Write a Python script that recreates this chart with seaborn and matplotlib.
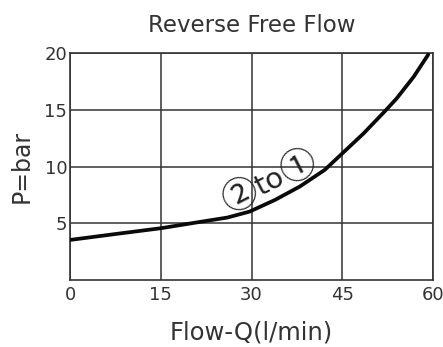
import matplotlib
matplotlib.use("Agg")
import matplotlib.pyplot as plt
import seaborn as sns
import pandas as pd

# Reverse free flow pressure curve
flow_q = [0, 7.5, 15, 21.5, 26, 29.7, 33.9, 38, 42.1, 45.5, 48.5, 52.1, 54, 56.8, 59.2]
pressure = [3.53, 4.05, 4.56, 5.12, 5.5, 6.03, 7.06, 8.24, 9.7, 11.4, 12.9, 14.9, 16.0, 17.9, 19.85]
x_ticks = [0, 15, 30, 45, 60]
y_ticks = [5, 10, 15, 20]

df = pd.DataFrame({"Q": flow_q, "P": pressure})

sns.set_theme(style="white")
plt.rcParams["font.family"] = ["DejaVu Sans", "Noto Sans CJK SC"]

fig = plt.figure(figsize=(4.43, 3.47), dpi=100)
ax = fig.add_axes([70 / 443, 1 - 280 / 347, 363 / 443, 227 / 347])

sns.lineplot(data=df, x="Q", y="P", ax=ax, color="#0a0a0a", linewidth=2.7,
             zorder=3)
ax.lines[0].set_solid_joinstyle("round")

ax.set_xlim(0, 60)
ax.set_ylim(0, 20)
ax.set_xticks(x_ticks)
ax.set_yticks(y_ticks)
ax.grid(True, color="#333333", linewidth=1.1)
ax.set_axisbelow(True)
for s in ax.spines.values():
    s.set_color("#333333")
    s.set_linewidth(1.2)

ax.tick_params(axis="both", length=0, labelsize=13, colors="#333333")
ax.tick_params(axis="x", pad=4)
ax.tick_params(axis="y", pad=2)

ax.set_xlabel("Flow-Q(l/min)", fontsize=17.5, color="#333333", labelpad=12)
ax.set_ylabel("P=bar", fontsize=17, color="#333333", labelpad=8)
ax.set_title("Reverse Free Flow", fontsize=16.5, color="#333333", pad=15)

# port direction label along the curve: ② to ①
cjk = ["Noto Sans CJK SC", "DejaVu Sans"]
ax.text(28.2, 7.35, "②", fontsize=26, rotation=27, color="#222222",
        ha="center", va="center", family=cjk)
ax.text(33.0, 8.65, "to", fontsize=21, rotation=27, color="#222222",
        ha="center", va="center")
ax.text(37.9, 9.95, "①", fontsize=26, rotation=27, color="#222222",
        ha="center", va="center", family=cjk)

fig.savefig("out.png", dpi=100)
